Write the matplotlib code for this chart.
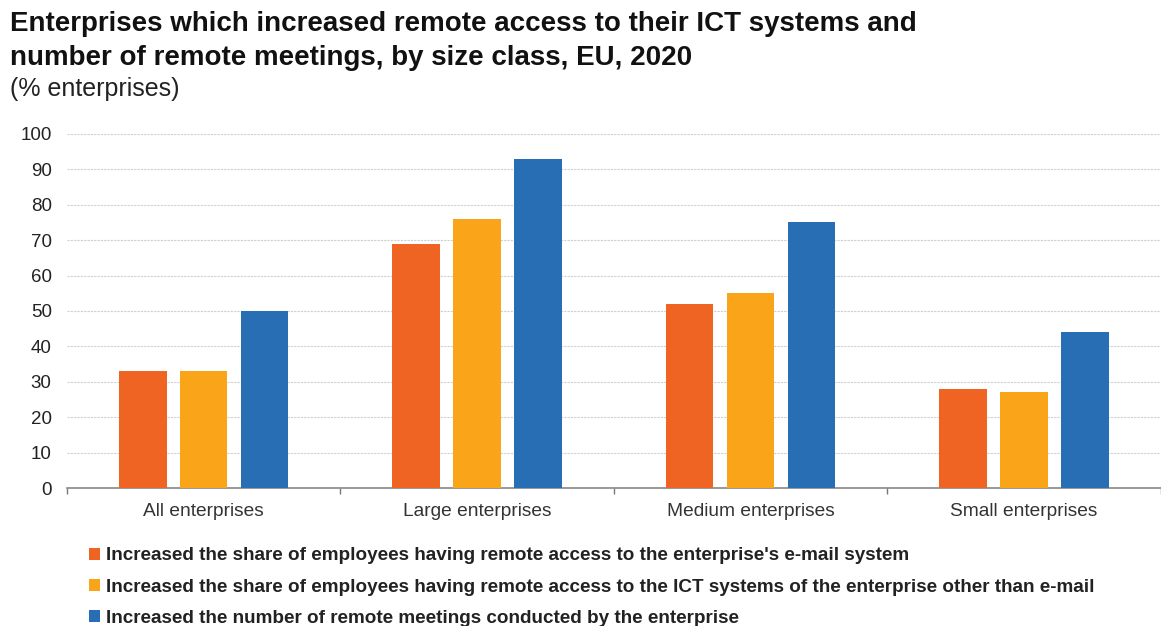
import numpy as np
import matplotlib
matplotlib.use("Agg")
import matplotlib.pyplot as plt

plt.rcParams['font.family'] = ['Liberation Sans', 'DejaVu Sans']

categories = ['All enterprises', 'Large enterprises', 'Medium enterprises', 'Small enterprises']
series_names = [
    "Increased the share of employees having remote access to the enterprise's e-mail system",
    "Increased the share of employees having remote access to the ICT systems of the enterprise other than e-mail",
    "Increased the number of remote meetings conducted by the enterprise",
]
email_access = [33, 69, 52, 28]
ict_access = [33, 76, 55, 27]
remote_meetings = [50, 93, 75, 44]
colors = ['#F06423', '#FAA519', '#286EB4']

fig = plt.figure(figsize=(11.61, 6.26), dpi=100)
ax = fig.add_axes([0.0577, 0.2204, 0.942, 0.5656])

x = np.arange(len(categories))
width = 0.174
step = 0.223
for i, (vals, name, c) in enumerate(zip([email_access, ict_access, remote_meetings], series_names, colors)):
    ax.bar(x + (i - 1) * step, vals, width, color=c, label=name, zorder=3)

ax.set_xlim(-0.5, len(categories) - 0.5)
ax.set_ylim(0, 100)
ax.set_yticks(range(0, 101, 10))
ax.yaxis.grid(True, color='#d0d0d0', linestyle=(0, (2, 1)), linewidth=0.8, zorder=0)
ax.tick_params(axis='y', length=0, labelsize=13.5, colors='#222222', pad=11)

# category labels centred, small tick marks at category boundaries
ax.set_xticks(x)
ax.set_xticklabels(categories, fontsize=13.8, color='#333333')
ax.tick_params(axis='x', which='major', length=0, pad=11)
ax.set_xticks(np.arange(-0.5, len(categories), 1.0), minor=True)
ax.tick_params(axis='x', which='minor', length=4, color='#777777', width=1)

for s in ['left', 'right', 'top']:
    ax.spines[s].set_visible(False)
ax.spines['bottom'].set_color('#888888')
ax.spines['bottom'].set_linewidth(1.2)

fig.text(0.009, 0.983, 'Enterprises which increased remote access to their ICT systems and\n'
         'number of remote meetings, by size class, EU, 2020',
         fontsize=20, fontweight='bold', va='top', ha='left', color='#111111', linespacing=1.42)
fig.text(0.009, 0.858, '(% enterprises)', fontsize=18, va='center', ha='left', color='#222222')

leg = fig.legend(loc='upper left', bbox_to_anchor=(0.07, 0.138), frameon=False,
                 prop={'size': 13.6, 'weight': 'bold'}, handlelength=0.6, handleheight=0.6,
                 handletextpad=0.3, labelspacing=0.76, borderaxespad=0)
for t in leg.get_texts():
    t.set_color('#222222')

fig.savefig('out.png', dpi=100)
